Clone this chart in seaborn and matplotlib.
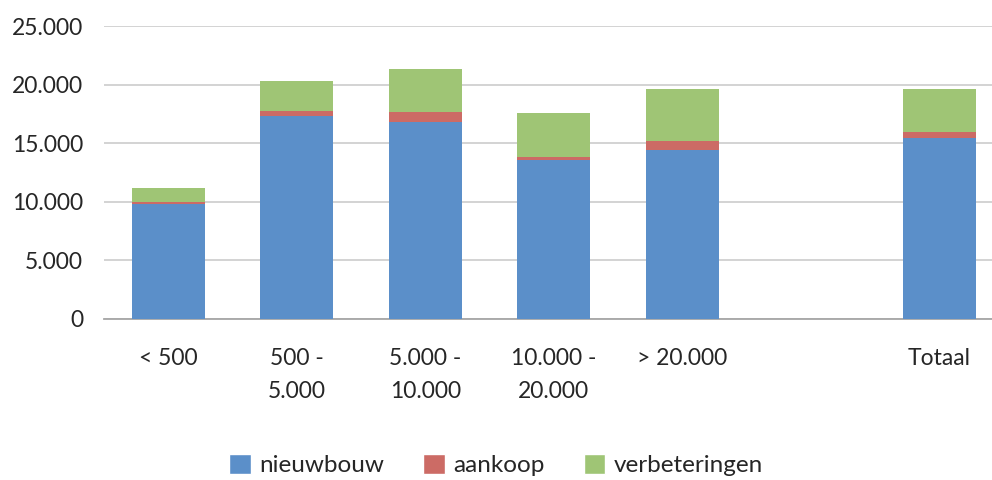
import seaborn as sns
import matplotlib.pyplot as plt
import pandas as pd
from matplotlib.patches import Patch
from matplotlib.ticker import FuncFormatter

categories = ['< 500', '500 -\n5.000', '5.000 -\n10.000', '10.000 -\n20.000', '> 20.000', 'Totaal']
order = ['< 500', '500 -\n5.000', '5.000 -\n10.000', '10.000 -\n20.000', '> 20.000', ' ', 'Totaal']
nieuwbouw = [9800, 17350, 16840, 13540, 14450, 15420]
aankoop = [170, 370, 790, 260, 710, 510]
verbeteringen = [1190, 2560, 3750, 3750, 4510, 3750]

series_names = ['nieuwbouw', 'aankoop', 'verbeteringen']
colors = {'nieuwbouw': '#5b8fc9', 'aankoop': '#cc6b65', 'verbeteringen': '#9fc575'}

sns.set_theme(style='white')
plt.rcParams['font.family'] = ['Lato', 'DejaVu Sans']

df = pd.DataFrame({'cat': categories, 'nieuwbouw': nieuwbouw,
                   'aankoop': aankoop, 'verbeteringen': verbeteringen})
# cumulative heights, drawn back to front to get stacked bars
df['top_nieuwbouw'] = df['nieuwbouw']
df['top_aankoop'] = df['nieuwbouw'] + df['aankoop']
df['top_verbeteringen'] = df['top_aankoop'] + df['verbeteringen']

fig = plt.figure(figsize=(9.92, 4.8), dpi=100)
ax = fig.add_axes([104 / 992, 1 - 318.7 / 480, 1 - 104 / 992, (318.7 - 25.7) / 480])

for name in reversed(series_names):
    sns.barplot(data=df, x='cat', y='top_' + name, order=order, color=colors[name],
                width=0.57, saturation=1, ax=ax, zorder=3, linewidth=0)

ax.set_xlim(-0.5, 6.41)
ax.set_ylim(0, 25000 * 1.002)
ax.set_yticks(range(0, 25001, 5000))
ax.yaxis.set_major_formatter(FuncFormatter(lambda v, p: f'{int(v):,}'.replace(',', '.')))
ax.grid(axis='y', color='#d0d0d0', linewidth=1.3, zorder=0)
ax.set_axisbelow(True)
for s in ['top', 'right', 'left']:
    ax.spines[s].set_visible(False)
ax.spines['bottom'].set_color('#a6a6a6')
ax.spines['bottom'].set_linewidth(1.3)
ax.set_xlabel('')
ax.set_ylabel('')
ax.tick_params(axis='y', length=0, pad=15, labelsize=16.5, labelcolor='#262626')
ax.tick_params(axis='x', length=0, pad=21, labelsize=16.5, labelcolor='#262626')
for lbl in ax.get_xticklabels():
    lbl.set_linespacing(1.7)
    lbl.set_verticalalignment('top')

handles = [Patch(facecolor=colors[n], label=n) for n in series_names]
fig.legend(handles=handles, loc='center', bbox_to_anchor=(0.5, 1 - 465 / 480), ncol=3,
           frameon=False, fontsize=17.5, handlelength=0.9, handleheight=0.9,
           handletextpad=0.35, columnspacing=1.6, labelcolor='#262626')

fig.savefig('out.png', dpi=100)
